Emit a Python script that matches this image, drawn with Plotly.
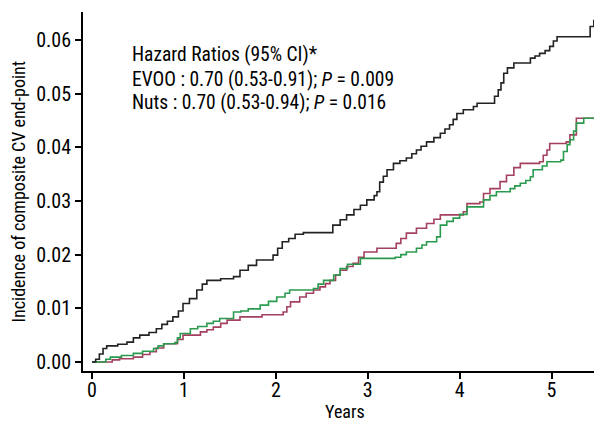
import plotly.graph_objects as go

# Control (black)
control_x = [0, 0.04, 0.08, 0.12, 0.16, 0.28, 0.38, 0.45, 0.52, 0.62, 0.70, 0.76, 0.82, 0.88, 0.94, 0.99,
             1.06, 1.14, 1.20, 1.25, 1.40, 1.54, 1.61, 1.70, 1.79, 1.97, 2.02, 2.07, 2.14, 2.21, 2.30,
             2.62, 2.70, 2.77, 2.85, 2.92, 2.99, 3.07, 3.10, 3.13, 3.17, 3.21, 3.28, 3.35, 3.42, 3.48,
             3.53, 3.58, 3.64, 3.72, 3.79, 3.84, 3.89, 3.93, 3.97, 4.04, 4.15, 4.19, 4.38, 4.42, 4.45,
             4.48, 4.52, 4.59, 4.77, 4.82, 4.87, 4.93, 4.98, 5.02, 5.06, 5.42, 5.46, 5.51]
control_y = [0, 0.0005, 0.0015, 0.0025, 0.0030, 0.0033, 0.0037, 0.0045, 0.0050, 0.0055, 0.0062, 0.0070,
             0.0076, 0.0084, 0.0095, 0.0109, 0.0118, 0.0134, 0.0145, 0.0152, 0.0155, 0.0159, 0.0171,
             0.0180, 0.0190, 0.0199, 0.0212, 0.0224, 0.0230, 0.0238, 0.0241, 0.0255, 0.0265, 0.0274,
             0.0284, 0.0292, 0.0302, 0.0310, 0.0317, 0.0335, 0.0346, 0.0358, 0.0370, 0.0375, 0.0380,
             0.0388, 0.0395, 0.0402, 0.0410, 0.0418, 0.0426, 0.0434, 0.0442, 0.0452, 0.0463, 0.0470,
             0.0476, 0.0482, 0.0495, 0.0507, 0.0520, 0.0538, 0.0548, 0.0557, 0.0566, 0.0570, 0.0575,
             0.0580, 0.0588, 0.0598, 0.0606, 0.0625, 0.0636, 0.0636]

# EVOO (green)
evoo_x = [0, 0.15, 0.20, 0.32, 0.45, 0.55, 0.67, 0.72, 0.78, 0.90, 0.93, 0.96, 1.07, 1.15, 1.25, 1.32,
          1.39, 1.54, 1.62, 1.70, 1.83, 1.92, 2.01, 2.10, 2.15, 2.41, 2.46, 2.52, 2.63, 2.70, 2.78, 2.92,
          3.30, 3.36, 3.42, 3.53, 3.59, 3.64, 3.75, 3.79, 3.86, 3.93, 4.00, 4.08, 4.26, 4.33, 4.40, 4.55,
          4.60, 4.66, 4.72, 4.77, 4.80, 4.90, 4.95, 5.10, 5.13, 5.17, 5.20, 5.24, 5.27, 5.35, 5.51]
evoo_y = [0, 0.0005, 0.0009, 0.0012, 0.0016, 0.0020, 0.0025, 0.0030, 0.0034, 0.0036, 0.0045, 0.0053,
          0.0062, 0.0066, 0.0072, 0.0076, 0.0081, 0.0093, 0.0095, 0.0099, 0.0106, 0.0113, 0.0121, 0.0128,
          0.0134, 0.0137, 0.0145, 0.0152, 0.0162, 0.0174, 0.0182, 0.0193, 0.0195, 0.0200, 0.0205, 0.0212,
          0.0218, 0.0224, 0.0233, 0.0255, 0.0262, 0.0268, 0.0275, 0.0289, 0.0302, 0.0310, 0.0317, 0.0323,
          0.0328, 0.0333, 0.0338, 0.0345, 0.0358, 0.0365, 0.0373, 0.0376, 0.0392, 0.0405, 0.0414, 0.0430,
          0.0445, 0.0454, 0.0454]

# Nuts (red)
nuts_x = [0, 0.20, 0.22, 0.30, 0.45, 0.55, 0.63, 0.70, 0.78, 0.89, 0.93, 0.99, 1.18, 1.25, 1.32, 1.40,
          1.47, 1.61, 1.85, 2.08, 2.12, 2.16, 2.26, 2.33, 2.41, 2.48, 2.54, 2.59, 2.65, 2.70, 2.77, 2.84,
          2.90, 2.96, 3.10, 3.31, 3.36, 3.42, 3.53, 3.64, 3.72, 3.79, 3.97, 4.04, 4.08, 4.22, 4.26, 4.33,
          4.44, 4.51, 4.59, 4.66, 4.87, 4.91, 4.95, 4.98, 5.16, 5.20, 5.27, 5.51]
nuts_y = [0, 0, 0.0004, 0.0006, 0.0009, 0.0014, 0.0019, 0.0026, 0.0034, 0.0034, 0.0042, 0.0050, 0.0056,
          0.0060, 0.0065, 0.0072, 0.0078, 0.0084, 0.0088, 0.0093, 0.0103, 0.0112, 0.0121, 0.0128, 0.0134,
          0.0140, 0.0146, 0.0152, 0.0162, 0.0171, 0.0178, 0.0184, 0.0195, 0.0205, 0.0212, 0.0221, 0.0230,
          0.0240, 0.0249, 0.0258, 0.0266, 0.0274, 0.0274, 0.0280, 0.0295, 0.0298, 0.0314, 0.0323, 0.0336,
          0.0348, 0.0362, 0.0370, 0.0373, 0.0385, 0.0395, 0.0407, 0.0410, 0.0423, 0.0454, 0.0454]

x_ticks = [0, 1, 2, 3, 4, 5]
y_ticks = [0, 0.01, 0.02, 0.03, 0.04, 0.05, 0.06]
x_title = "Years"
y_title = "Incidence of composite CV end-point"

annotation_lines = [
    "Hazard Ratios (95% CI)*",
    "EVOO : 0.70 (0.53-0.91); <i>P</i> = 0.009",
    "Nuts : 0.70 (0.53-0.94); <i>P</i> = 0.016",
]

FONT = "Roboto Condensed, DejaVu Sans Condensed, sans-serif"

fig = go.Figure()
fig.add_trace(go.Scatter(x=nuts_x, y=nuts_y, mode="lines", line=dict(color="#a3405e", width=1.6, shape="hv"),
                         name="Nuts"))
fig.add_trace(go.Scatter(x=evoo_x, y=evoo_y, mode="lines", line=dict(color="#2a9a4e", width=1.6, shape="hv"),
                         name="EVOO"))
fig.add_trace(go.Scatter(x=control_x, y=control_y, mode="lines", line=dict(color="#222222", width=1.6, shape="hv"),
                         name="Control"))

ann_y = [0.0572, 0.0527, 0.0484]
for txt, yy in zip(annotation_lines, ann_y):
    fig.add_annotation(x=0.415, y=yy, xref="x", yref="y", text=txt, showarrow=False,
                       xanchor="left", yanchor="middle", font=dict(family=FONT, size=19.5, color="black"))

# axis titles
fig.add_annotation(x=0.505, y=0, xref="paper", yref="paper", text=x_title, showarrow=False,
                   xanchor="center", yanchor="middle", yshift=-40, font=dict(family=FONT, size=18, color="black"))
fig.add_annotation(x=0, y=0.5, xref="paper", yref="paper", text=y_title, showarrow=False, textangle=-90,
                   xanchor="center", yanchor="middle", xshift=-65, font=dict(family=FONT, size=18, color="black"))

fig.update_layout(
    width=594, height=413,
    margin=dict(l=75, r=0, t=4, b=50),
    plot_bgcolor="white", paper_bgcolor="white",
    showlegend=False,
    font=dict(family=FONT, size=20, color="black"),
    xaxis=dict(range=[-0.098, 5.549], tickvals=x_ticks, showgrid=False, zeroline=False, automargin=False,
               showline=True, linecolor="black", linewidth=1.8, ticks="outside", ticklen=6, tickwidth=1.5,
               tickcolor="black", ticklabelstandoff=-6),
    yaxis=dict(range=[-0.00168, 0.0652], tickvals=y_ticks, tickformat=".2f", automargin=False,
               showgrid=False, zeroline=False, showline=True, linecolor="black", linewidth=1.8,
               ticks="outside", ticklen=6, tickwidth=1.5, tickcolor="black"),
)

fig.write_html("out.html")
